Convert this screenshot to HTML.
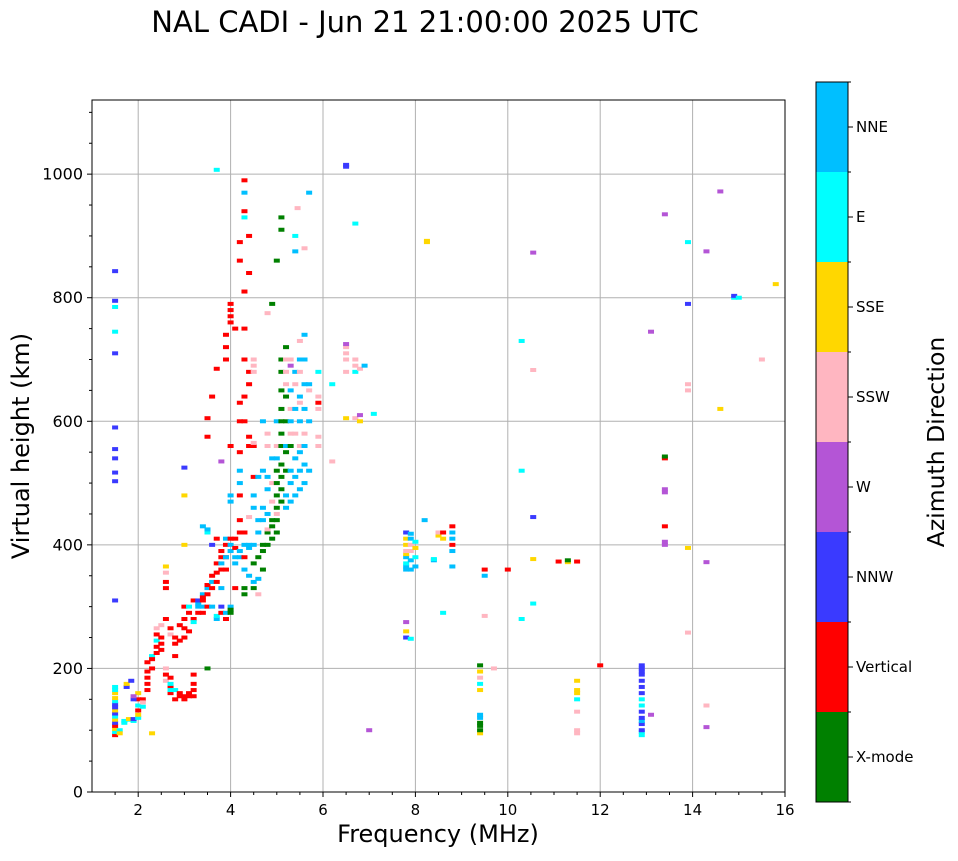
<!DOCTYPE html>
<html><head><meta charset="utf-8"><style>
body{margin:0;background:#fff;font-family:"DejaVu Sans","Liberation Sans",sans-serif}
svg text{font-family:"DejaVu Sans","Liberation Sans",sans-serif}
</style></head><body>
<svg id="chart" width="958" height="857" xmlns="http://www.w3.org/2000/svg">
<text x="425" y="32" font-size="29" text-anchor="middle">NAL CADI - Jun 21 21:00:00 2025 UTC</text>
<g id="grid"></g>
<g id="marks"></g>
<rect x="92" y="100" width="693" height="692" fill="none" stroke="#000" stroke-width="1"/>
<g id="axes"></g>
<text x="438" y="842" font-size="24" text-anchor="middle">Frequency (MHz)</text>
<text transform="translate(29,446) rotate(-90)" font-size="24" text-anchor="middle">Virtual height (km)</text>
<g id="cbar"></g>
<text transform="translate(944,442) rotate(-90)" font-size="23.5" text-anchor="middle">Azimuth Direction</text>
</svg>
<script>
const directions = ["X-mode","Vertical","NNW","W","SSW","SSE","E","NNE"];
const dirColors = ["#008000","#ff0000","#3a3aff","#b455d6","#ffb6c1","#ffd700","#00ffff","#00bfff"];
const xTicks = [2,4,6,8,10,12,14,16];
const yTicks = [0,200,400,600,800,1000];
// d: 0 X,1 Vert,2 NNW,3 W,4 SSW,5 SSE,6 E,7 NNE
const echoes = [
[1.5,92,1],[1.5,97,6],[1.5,102,5],[1.5,107,1],[1.5,112,2],[1.5,117,5],[1.5,122,6],[1.5,127,2],[1.5,132,5],[1.5,137,2],[1.5,142,2],[1.5,147,6],[1.5,152,5],[1.5,160,5],[1.5,165,6],[1.5,170,6],
[1.5,310,2],[1.5,503,2],[1.5,517,2],[1.5,540,2],[1.5,555,2],[1.5,590,2],[1.5,710,2],[1.5,745,6],[1.5,785,6],[1.5,795,2],[1.5,843,2],
[1.6,100,6],[1.6,95,5],[1.7,112,6],[1.7,115,6],[1.8,117,6],[1.8,118,5],[1.9,115,6],[1.9,118,2],[2.0,120,6],[2.0,125,5],[2.0,132,1],[2.0,140,6],[2.0,150,1],[2.0,160,5],
[1.75,170,2],[1.75,175,5],[1.85,180,2],[1.9,150,2],[1.9,155,3],[2.1,150,1],[2.1,145,4],[2.1,138,6],[2.3,95,5],
[2.2,165,1],[2.2,175,1],[2.2,185,1],[2.2,195,1],[2.2,210,1],[2.3,200,1],[2.3,220,6],[2.3,215,1],
[2.4,225,1],[2.4,235,1],[2.4,245,6],[2.4,255,1],[2.4,265,4],[2.5,240,1],[2.5,250,1],[2.5,270,4],[2.5,230,1],[2.6,355,4],[2.6,365,5],
[2.6,190,1],[2.6,180,4],[2.6,200,4],[2.6,280,1],[2.6,330,1],[2.6,340,1],[2.7,185,1],[2.7,170,1],[2.7,175,6],[2.7,160,1],[2.7,165,6],[2.7,255,4],[2.7,265,1],
[2.8,150,1],[2.8,165,6],[2.8,240,1],[2.8,250,1],[2.8,220,1],[2.9,155,1],[2.9,160,1],[2.9,270,1],[2.9,245,1],
[3.0,150,1],[3.0,155,1],[3.0,250,1],[3.0,265,1],[3.0,280,1],[3.0,300,1],[3.0,400,5],[3.0,480,5],[3.0,525,2],[3.1,155,1],[3.1,160,1],[3.1,260,1],[3.1,290,1],[3.1,300,6],
[3.2,155,1],[3.2,165,1],[3.2,175,1],[3.2,190,1],[3.2,280,1],[3.2,275,6],[3.2,310,1],[3.3,300,7],[3.3,305,7],[3.3,290,1],[3.3,310,2],
[3.4,300,7],[3.4,320,7],[3.4,310,1],[3.4,315,1],[3.4,290,1],[3.4,430,7],[3.5,320,1],[3.5,330,7],[3.5,335,1],[3.5,300,1],[3.5,420,6],[3.5,425,7],[3.5,575,1],[3.5,605,1],[3.5,200,0],
[3.6,350,1],[3.6,340,7],[3.6,330,1],[3.6,300,7],[3.6,400,2],[3.6,640,1],[3.7,340,1],[3.7,355,1],[3.7,370,1],[3.7,280,7],[3.7,285,6],[3.7,410,1],[3.7,685,1],[3.7,1007,6],
[3.8,360,1],[3.8,380,1],[3.8,390,1],[3.8,370,7],[3.8,290,1],[3.8,300,2],[3.8,330,7],[3.8,535,3],[3.9,380,1],[3.9,400,1],[3.9,410,7],[3.9,360,1],[3.9,380,7],[3.9,290,7],[3.9,280,1],[3.9,740,1],[3.9,720,1],[3.9,700,1],
[4.0,410,1],[4.0,390,7],[4.0,400,7],[4.0,300,7],[4.0,290,0],[4.0,295,0],[4.0,760,1],[4.0,780,1],[4.0,790,1],[4.0,770,1],[4.0,560,1],[4.0,480,7],[4.0,470,7],
[4.1,380,7],[4.1,370,7],[4.1,395,1],[4.1,330,1],[4.1,410,1],[4.1,750,1],[4.2,380,7],[4.2,390,7],[4.2,420,1],[4.2,440,1],[4.2,480,1],[4.2,860,1],[4.2,890,1],[4.2,500,7],[4.2,520,7],[4.2,550,1],[4.2,600,1],[4.2,630,1],
[4.3,360,7],[4.3,400,7],[4.3,420,1],[4.3,380,1],[4.3,330,0],[4.3,320,0],[4.3,600,1],[4.3,640,1],[4.3,700,1],[4.3,750,1],[4.3,810,1],[4.3,940,1],[4.3,990,1],[4.3,970,7],[4.3,930,6],
[4.4,350,7],[4.4,395,7],[4.4,445,4],[4.4,400,7],[4.4,560,1],[4.4,575,1],[4.4,660,1],[4.4,680,1],[4.4,840,1],[4.4,900,1],
[4.5,330,0],[4.5,340,7],[4.5,370,0],[4.5,400,7],[4.5,460,7],[4.5,480,7],[4.5,510,1],[4.5,560,1],[4.5,565,4],[4.5,700,4],[4.5,690,4],[4.5,680,4],[4.6,320,4],
[4.6,380,0],[4.6,345,7],[4.6,420,7],[4.6,440,7],[4.6,510,7],[4.7,390,0],[4.7,400,0],[4.7,440,7],[4.7,460,7],[4.7,360,0],[4.7,520,7],[4.7,600,7],[4.8,775,4],
[4.8,400,0],[4.8,420,0],[4.8,450,7],[4.8,425,4],[4.8,490,7],[4.8,510,7],[4.8,560,4],[4.8,580,4],[4.9,410,0],[4.9,430,0],[4.9,440,0],[4.9,470,4],[4.9,500,4],[4.9,540,7],[4.9,790,0],
[5.0,420,0],[5.0,440,0],[5.0,460,0],[5.0,480,0],[5.0,500,0],[5.0,520,0],[5.0,540,7],[5.0,560,4],[5.0,600,7],[5.0,450,4],[5.0,860,0],
[5.1,470,0],[5.1,490,0],[5.1,510,0],[5.1,530,0],[5.1,560,0],[5.1,580,0],[5.1,600,0],[5.1,620,0],[5.1,650,0],[5.1,680,0],[5.1,700,0],[5.1,910,0],[5.1,930,0],
[5.2,460,7],[5.2,480,7],[5.2,520,0],[5.2,550,0],[5.2,600,0],[5.2,640,0],[5.2,660,4],[5.2,680,4],[5.2,700,4],[5.2,720,0],[5.2,560,7],
[5.3,470,7],[5.3,500,7],[5.3,520,7],[5.3,560,0],[5.3,580,4],[5.3,600,7],[5.3,650,7],[5.3,620,4],[5.3,690,3],[5.3,700,4],
[5.4,480,7],[5.4,510,7],[5.4,540,7],[5.4,580,4],[5.4,620,7],[5.4,660,4],[5.4,680,7],[5.4,875,7],[5.4,900,6],[5.45,945,4],
[5.5,490,7],[5.5,520,7],[5.5,550,7],[5.5,600,7],[5.5,640,7],[5.5,700,7],[5.5,730,4],[5.5,560,4],[5.5,630,4],[5.5,680,4],
[5.6,500,7],[5.6,530,7],[5.6,560,7],[5.6,580,4],[5.6,620,7],[5.6,660,7],[5.6,700,7],[5.6,740,7],[5.6,880,4],[5.7,520,7],[5.7,600,7],[5.7,650,4],[5.7,660,7],[5.7,970,7],
[5.9,560,4],[5.9,575,4],[5.9,620,4],[5.9,640,4],[5.9,680,6],[5.9,630,1],[6.2,535,4],[6.2,660,6],
[6.5,605,5],[6.5,680,4],[6.5,700,4],[6.5,710,4],[6.5,720,4],[6.5,725,3],[6.5,1012,2],[6.5,1015,2],[6.7,605,4],[6.7,690,4],[6.7,920,6],[6.7,700,4],[6.7,680,6],[6.8,600,5],[6.8,610,3],[6.8,685,4],[6.9,690,7],[7.1,612,6],[7.0,100,3],
[7.8,360,7],[7.8,365,7],[7.8,370,6],[7.8,380,7],[7.8,385,5],[7.8,390,4],[7.8,400,5],[7.8,410,5],[7.8,420,2],[7.8,250,2],[7.8,260,5],[7.8,275,3],
[7.9,360,7],[7.9,375,7],[7.9,390,4],[7.9,400,4],[7.9,410,7],[7.9,418,7],[7.9,248,6],[8.0,365,7],[8.0,380,6],[8.0,395,5],[8.0,405,6],
[8.25,890,5],[8.25,892,5],[8.2,440,7],[8.4,375,7],[8.4,377,6],[8.5,415,5],[8.5,420,4],[8.6,290,6],[8.6,420,1],[8.6,410,5],[8.8,390,7],[8.8,400,1],[8.8,420,7],[8.8,430,1],[8.8,410,7],[8.8,365,7],
[9.4,95,5],[9.4,100,0],[9.4,107,0],[9.4,112,0],[9.4,120,7],[9.4,125,7],[9.4,165,5],[9.4,175,6],[9.4,185,4],[9.4,195,5],[9.4,205,0],[9.5,350,7],[9.5,360,1],[9.5,285,4],[9.7,200,4],[10.0,360,1],
[10.3,520,6],[10.3,280,6],[10.3,730,6],[10.55,305,6],[10.55,377,5],[10.55,445,2],[10.55,683,4],[10.55,873,3],
[11.3,372,5],[11.3,375,0],[11.1,373,1],[11.5,373,1],[11.5,180,5],[11.5,165,5],[11.5,160,5],[11.5,150,6],[11.5,130,4],[11.5,100,4],[11.5,95,4],[12.0,205,1],
[12.9,92,6],[12.9,97,6],[12.9,100,2],[12.9,110,2],[12.9,115,7],[12.9,120,2],[12.9,130,2],[12.9,140,6],[12.9,150,6],[12.9,160,2],[12.9,170,2],[12.9,180,2],[12.9,190,2],[12.9,195,2],[12.9,200,2],[12.9,205,2],
[13.1,125,3],[13.1,745,3],[13.4,400,3],[13.4,405,3],[13.4,430,1],[13.4,485,3],[13.4,490,3],[13.4,540,1],[13.4,543,0],[13.4,935,3],
[13.9,395,5],[13.9,258,4],[13.9,650,4],[13.9,660,4],[13.9,790,2],[13.9,890,6],[14.3,372,3],[14.3,875,3],[14.3,105,3],[14.3,140,4],[14.6,620,5],[14.6,972,3],[14.9,800,6],[14.9,803,2],[15.0,800,6],[15.5,700,4],[15.8,822,5]
];
const X0=92,X1=785,Y0=792,Y1=100,FMIN=1,FMAX=16,HMIN=0,HMAX=1120;
const xs=f=>X0+(f-FMIN)/(FMAX-FMIN)*(X1-X0);
const ys=h=>Y0-(h-HMIN)/(HMAX-HMIN)*(Y0-Y1);
const NS="http://www.w3.org/2000/svg";
function mk(tag,attrs,parent){const e=document.createElementNS(NS,tag);for(const k in attrs)e.setAttribute(k,attrs[k]);parent.appendChild(e);return e;}
const grid=document.getElementById('grid'),axes=document.getElementById('axes'),marks=document.getElementById('marks'),cbar=document.getElementById('cbar');
xTicks.forEach(t=>{
  const x=xs(t);
  const gl=mk('line',{x1:x,x2:x,y1:Y1,y2:Y0,stroke:'#b0b0b0','stroke-width':1},grid);
  
  
  const tk=mk('line',{x1:x,x2:x,y1:Y0,y2:Y0+5,stroke:'#000'},axes);
  
  
  const tl=mk('text',{x:x,y:Y0+23,'font-size':15,'text-anchor':'middle'},axes);
  tl.textContent=t;
  
  
});
for(let f=1.5;f<16;f+=0.5){if(f%2===0)continue;const x=xs(f);const m=mk('line',{x1:x,x2:x,y1:Y0,y2:Y0+3,stroke:'#000'},axes);
  
  }
yTicks.forEach(t=>{
  const y=ys(t);
  const gl=mk('line',{x1:X0,x2:X1,y1:y,y2:y,stroke:'#b0b0b0','stroke-width':1},grid);
  
  
  const tk=mk('line',{x1:X0-5,x2:X0,y1:y,y2:y,stroke:'#000'},axes);
  
  
  const tl=mk('text',{x:X0-9,y:y+5.5,'font-size':16,'text-anchor':'end'},axes);
  tl.textContent=t;
  
  
});
for(let h=50;h<1120;h+=50){if(h%200===0)continue;const y=ys(h);const m=mk('line',{x1:X0-3,x2:X0,y1:y,y2:y,stroke:'#000'},axes);
  
  }
echoes.forEach(e=>{
  const x=xs(e[0]),y=ys(e[1]);
  const r=mk('rect',{x:x-3,y:y-2,width:6,height:4,fill:dirColors[e[2]]},marks);
  
  
});
const CB_X=816,CB_W=32,CB_TOP=82,CB_BOT=802,segH=(CB_BOT-CB_TOP)/directions.length;
directions.forEach((d,i)=>{
  const y=CB_BOT-(i+1)*segH;
  const r=mk('rect',{x:CB_X,y:y,width:CB_W,height:segH,fill:dirColors[i]},cbar);
  
  
  const tk=mk('line',{x1:CB_X+CB_W,x2:CB_X+CB_W+5,y1:y+segH/2,y2:y+segH/2,stroke:'#000'},cbar);
  
  
  const t=mk('text',{x:CB_X+CB_W+8,y:y+segH/2+5,'font-size':15},cbar);
  t.textContent=d;
  
  
});
for(let i=0;i<=directions.length;i++){const y=CB_TOP+i*segH;const m=mk('line',{x1:CB_X+CB_W,x2:CB_X+CB_W+3,y1:y,y2:y,stroke:'#000'},cbar);
  
  }
const fr=mk('rect',{x:CB_X,y:CB_TOP,width:CB_W,height:CB_BOT-CB_TOP,fill:'none',stroke:'#000'},cbar);


</script>
</body></html>
